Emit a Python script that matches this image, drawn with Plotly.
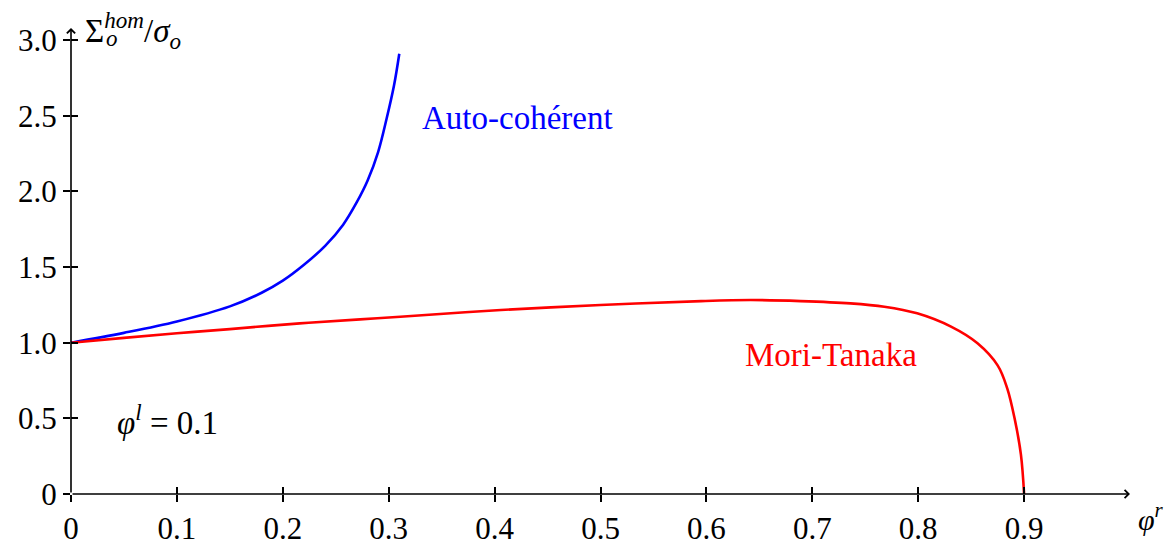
import plotly.graph_objects as go

# Data
phi_ac = [0.0, 0.05, 0.10, 0.15, 0.18, 0.20, 0.22, 0.24, 0.257, 0.27, 0.28, 0.29, 0.298, 0.305, 0.310]
sig_ac = [1.00, 1.065, 1.14, 1.24, 1.33, 1.41, 1.515, 1.64, 1.78, 1.93, 2.07, 2.26, 2.48, 2.70, 2.91]

phi_mt = [0.0, 0.05, 0.10, 0.15, 0.216, 0.273, 0.311, 0.406, 0.50, 0.595, 0.642, 0.689, 0.736,
          0.768, 0.799, 0.831, 0.856, 0.875, 0.884, 0.891, 0.897, 0.900]
sig_mt = [1.00, 1.032, 1.062, 1.09, 1.128, 1.154, 1.172, 1.216, 1.249, 1.275, 1.282, 1.275, 1.26,
          1.238, 1.194, 1.106, 0.996, 0.85, 0.70, 0.50, 0.26, 0.0]

xtick_vals = [0, 0.1, 0.2, 0.3, 0.4, 0.5, 0.6, 0.7, 0.8, 0.9]
xtick_text = ["0", "0.1", "0.2", "0.3", "0.4", "0.5", "0.6", "0.7", "0.8", "0.9"]
ytick_vals = [0, 0.5, 1.0, 1.5, 2.0, 2.5, 3.0]
ytick_text = ["0", "0.5", "1.0", "1.5", "2.0", "2.5", "3.0"]

FONT = "Liberation Serif"
FS = 33
TFS = 31
BODY = 8  # default page margin of the html body

fig = go.Figure()
fig.add_trace(go.Scatter(x=phi_ac, y=sig_ac, mode="lines",
                         line=dict(color="#0000ff", width=2.6, shape="spline", smoothing=1.0),
                         showlegend=False, hoverinfo="skip"))
fig.add_trace(go.Scatter(x=phi_mt, y=sig_mt, mode="lines",
                         line=dict(color="#ff0000", width=2.6, shape="spline", smoothing=1.0),
                         showlegend=False, hoverinfo="skip"))
# dummy trace to activate overlay axes (crossing ticks)
fig.add_trace(go.Scatter(x=[None], y=[None], xaxis="x2", yaxis="y2", showlegend=False,
                         hoverinfo="skip"))

XR = [0, 1.0]
YR = [0, 3.08]

tick_common = dict(showgrid=False, zeroline=False, showline=False, automargin=False,
                   tickcolor="black", tickwidth=1.5, ticklen=7)

fig.update_layout(
    template="none",
    width=1175 - BODY, height=545 - BODY,
    margin=dict(l=71 - BODY, r=45, t=28 - BODY, b=51, pad=0),
    paper_bgcolor="white", plot_bgcolor="white",
    xaxis=dict(range=XR, ticks="outside", tickvals=xtick_vals, ticktext=xtick_text,
               tickfont=dict(family=FONT, size=TFS, color="black"), **tick_common),
    yaxis=dict(range=YR, ticks="outside", tickvals=ytick_vals, ticktext=ytick_text,
               tickfont=dict(family=FONT, size=TFS, color="black"), **tick_common),
    xaxis2=dict(range=XR, overlaying="x", anchor="y2", side="bottom", ticks="inside",
                tickvals=xtick_vals, showticklabels=False, **tick_common),
    yaxis2=dict(range=YR, overlaying="y", anchor="x2", side="left", ticks="inside",
                tickvals=ytick_vals, showticklabels=False, **tick_common),
)

# axes drawn as arrows from the origin
fig.add_annotation(x=XR[1], y=0, ax=0, ay=0, xref="x", yref="y", axref="x", ayref="y",
                   showarrow=True, arrowhead=4, arrowsize=1.0, arrowwidth=1.6,
                   arrowcolor="black", text="", standoff=0, startstandoff=0)
fig.add_annotation(x=0, y=YR[1], ax=0, ay=0, xref="x", yref="y", axref="x", ayref="y",
                   showarrow=True, arrowhead=4, arrowsize=1.0, arrowwidth=1.6,
                   arrowcolor="black", text="", standoff=0, startstandoff=0)

# curve labels
fig.add_annotation(x=0.4215, y=2.485, text="Auto-cohérent", showarrow=False,
                   font=dict(family=FONT, size=FS, color="#0000ff"))
fig.add_annotation(x=0.718, y=0.918, text="Mori-Tanaka", showarrow=False,
                   font=dict(family=FONT, size=FS, color="#ff0000"))
fig.add_annotation(x=0.0907, y=0.489, text="<i>φ</i><sup><i>l</i></sup> = 0.1", showarrow=False,
                   font=dict(family=FONT, size=FS, color="black"))

# axis titles
fig.add_annotation(xref="paper", yref="paper", x=1.0, y=0, xanchor="left", yanchor="top",
                   xshift=6, yshift=-2, text="<i>φ</i><sup><i>r</i></sup>", showarrow=False,
                   font=dict(family=FONT, size=30, color="black"))
fig.add_annotation(xref="paper", yref="paper", x=0, y=1, xanchor="left", yanchor="middle",
                   xshift=12, yshift=-2, text="Σ<sup><i>hom</i></sup>/<i>σ<sub>o</sub></i>",
                   showarrow=False, font=dict(family=FONT, size=FS, color="black"))
fig.add_annotation(xref="paper", yref="paper", x=0, y=1, xanchor="left", yanchor="middle",
                   xshift=33, yshift=-10, text="<i>o</i>",
                   showarrow=False, font=dict(family=FONT, size=23, color="black"))

fig.write_html("out.html")
